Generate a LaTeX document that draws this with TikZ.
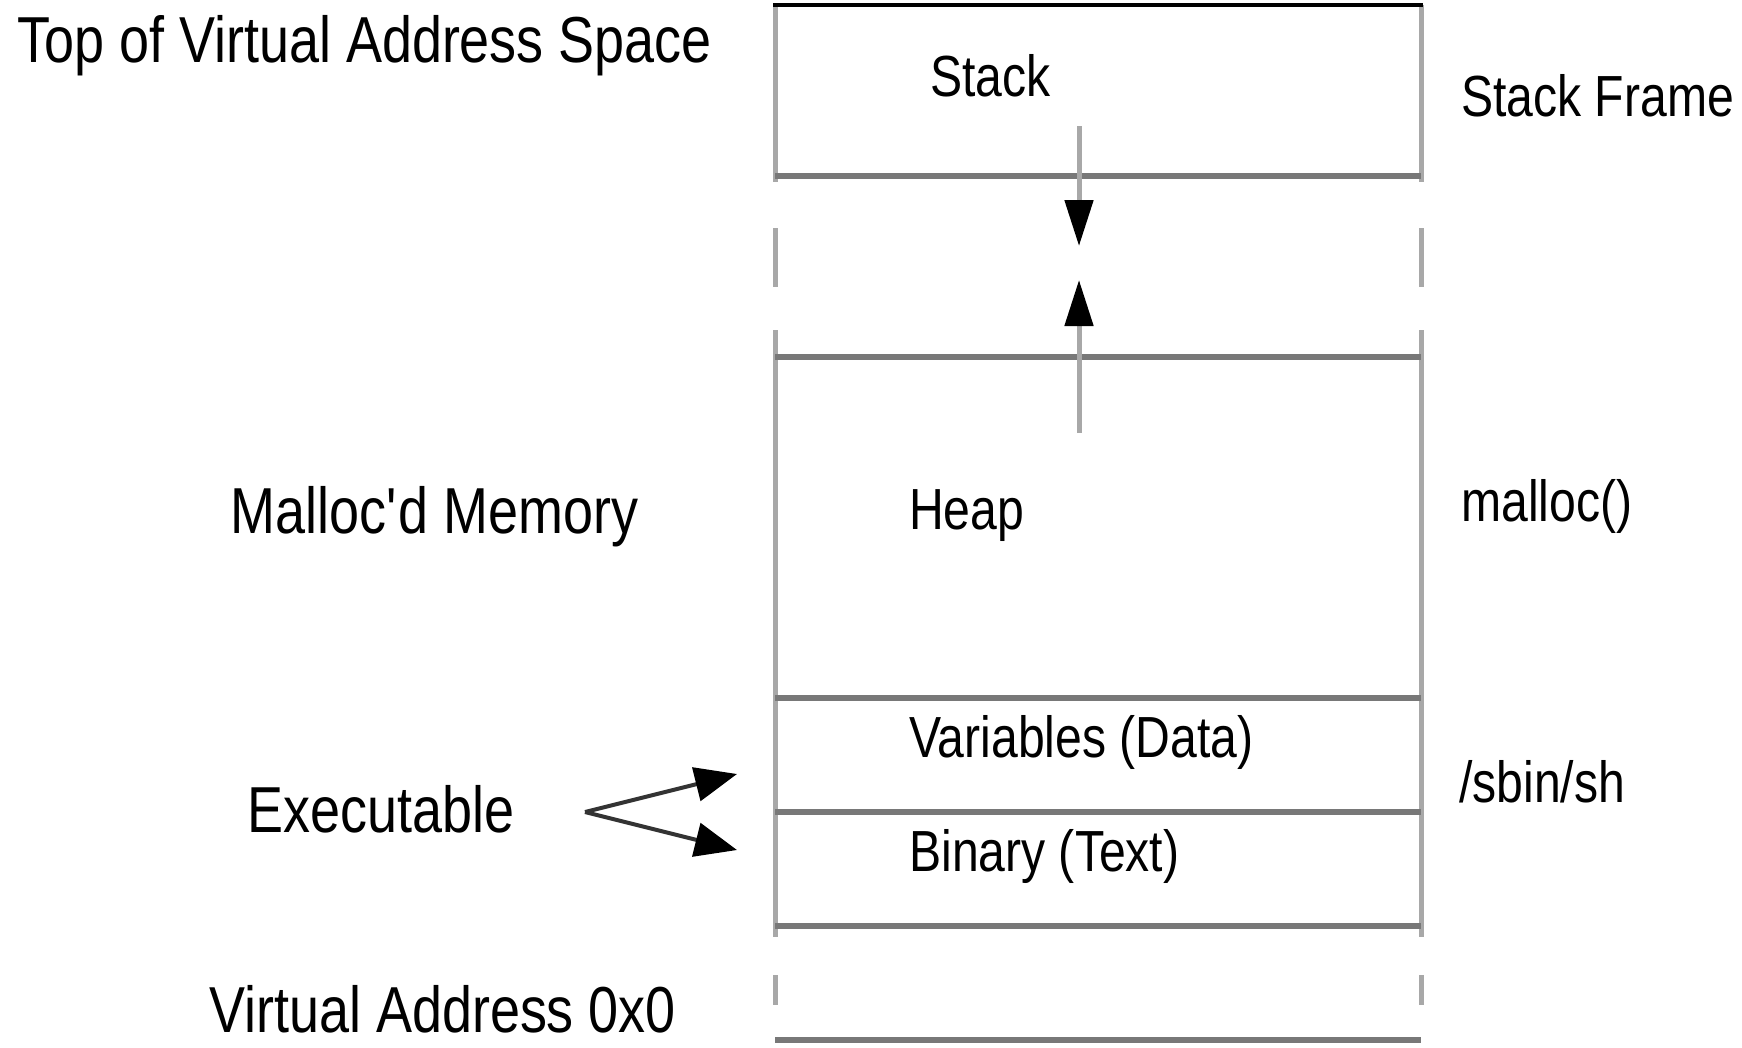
\documentclass[tikz,border=0pt]{standalone}
\usepackage{fontspec}
\setmainfont[FakeStretch=0.83]{Liberation Sans}
\usetikzlibrary{arrows.meta}
\definecolor{rulegray}{RGB}{120,120,120}
\definecolor{sidegray}{RGB}{168,168,168}
\tikzset{
  biglabel/.style={anchor=base west, inner sep=0pt, font=\fontsize{65}{70}\selectfont},
  smalllabel/.style={anchor=base west, inner sep=0pt, font=\fontsize{58}{62}\selectfont},
  hrule/.style={draw=rulegray, line width=6pt},
  side/.style={draw=sidegray, line width=5pt},
  growarrow/.style={draw=sidegray, line width=5pt, -{Triangle[length=46pt,width=28pt,color=black]}},
  exearrow/.style={draw=black!80, line width=4pt, -{Triangle[length=42pt,width=34pt,color=black]}}
}
\begin{document}
\begin{tikzpicture}[x=1pt,y=-1pt]
\useasboundingbox (0,0) rectangle (1742,1047);

% side walls: stack, gap (dashed), heap..text, gap (dashed)
\draw[side] (775,5) -- (775,182);
\draw[side] (1421,5) -- (1421,182);
\draw[side] (775,228) -- (775,287);
\draw[side] (1421,228) -- (1421,287);
\draw[side] (775,330) -- (775,937);
\draw[side] (1421,330) -- (1421,937);
\draw[side] (775,975) -- (775,1005);
\draw[side] (1421,975) -- (1421,1005);

% horizontal boundaries
\draw[black, line width=4pt] (773,5) -- (1423,5);
\draw[hrule] (775,176) -- (1421,176);
\draw[hrule] (775,357) -- (1421,357);
\draw[hrule] (775,698) -- (1421,698);
\draw[hrule] (775,812) -- (1421,812);
\draw[hrule] (775,926) -- (1421,926);
\draw[hrule] (775,1040) -- (1421,1040);

% stack / heap growth arrows
\coordinate (stackfrom) at (1079,126);
\coordinate (stackto) at (1079,246);
\coordinate (heapfrom) at (1079,433);
\coordinate (heapto) at (1079,280);
\draw[growarrow] (stackfrom) -- (stackto);
\draw[growarrow] (heapfrom) -- (heapto);

% labels inside the column
\node[smalllabel] (stack) at (930,96) {Stack};
\node[smalllabel] (heap) at (909,529) {Heap};
\node[smalllabel] (data) at (909,757) {Variables (Data)};
\node[smalllabel] (text) at (909,871) {Binary (Text)};

% labels on the right
\node[smalllabel] (frame) at (1461,116) {Stack Frame};
\node[smalllabel] (malloc) at (1461,521) {malloc()};
\node[smalllabel] (sbin) at (1459,802) {/sbin/sh};

% labels on the left
\node[biglabel] (top) at (17,62) {Top of Virtual Address Space};
\node[biglabel] (mem) at (230,533) {Malloc\textquotesingle d Memory};
\node[biglabel] (exe) at (247,832) {Executable};
\node[biglabel] (zero) at (209,1032) {Virtual Address 0x0};

% executable points at data and text
\coordinate (fork) at (585,812);
\coordinate (todata) at (737,774);
\coordinate (totext) at (737,850);
\draw[exearrow] (fork) -- (todata);
\draw[exearrow] (fork) -- (totext);
\end{tikzpicture}
\end{document}
